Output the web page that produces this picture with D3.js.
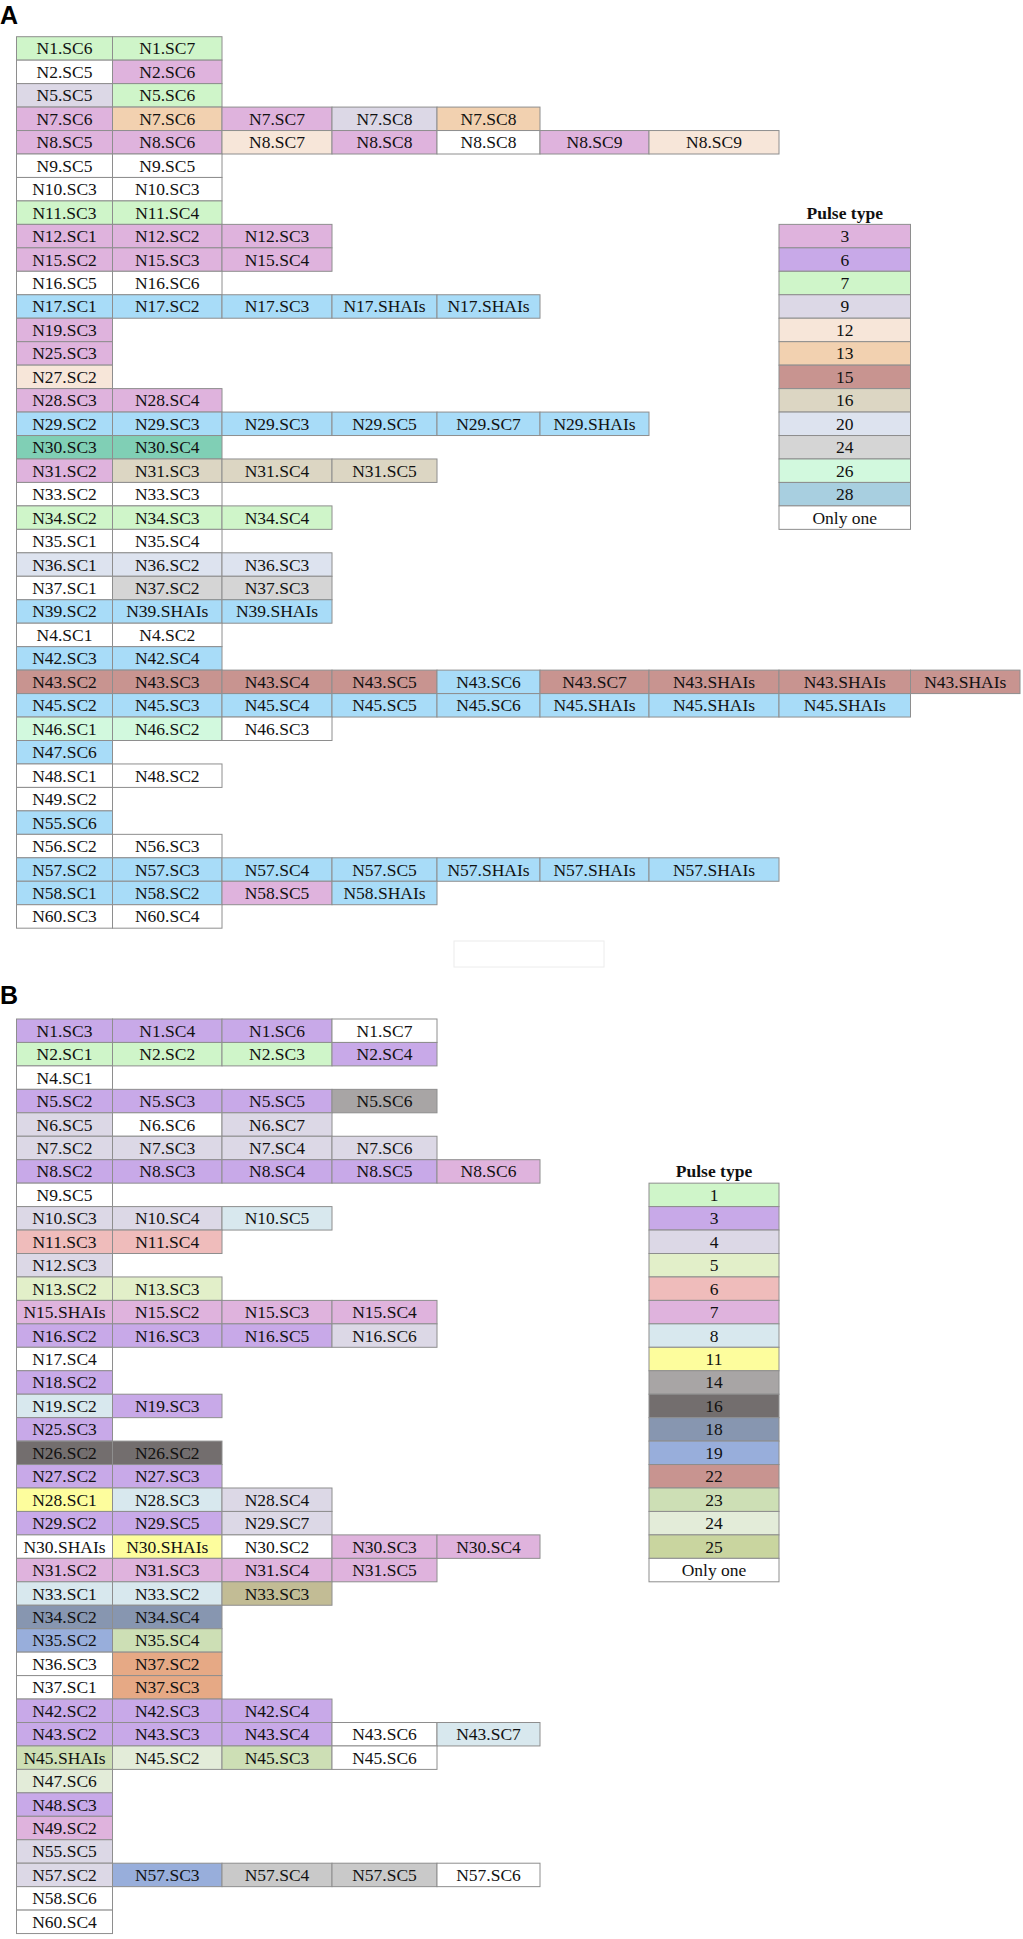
<!DOCTYPE html>
<html>
<head>
<meta charset="utf-8">
<script src="https://cdn.jsdelivr.net/npm/d3@7"></script>
<style>
  html, body { margin: 0; padding: 0; background: #ffffff; }
  svg { display: block; }
</style>
</head>
<body>
<svg id="chart" width="1023" height="1939"></svg>
<script>
// ---------------- DATA ----------------
// Panel A: cell labels per row, and the pulse type of each cell ("0" = only one)
const labelsA = [
  ["N1.SC6","N1.SC7"],
  ["N2.SC5","N2.SC6"],
  ["N5.SC5","N5.SC6"],
  ["N7.SC6","N7.SC6","N7.SC7","N7.SC8","N7.SC8"],
  ["N8.SC5","N8.SC6","N8.SC7","N8.SC8","N8.SC8","N8.SC9","N8.SC9"],
  ["N9.SC5","N9.SC5"],
  ["N10.SC3","N10.SC3"],
  ["N11.SC3","N11.SC4"],
  ["N12.SC1","N12.SC2","N12.SC3"],
  ["N15.SC2","N15.SC3","N15.SC4"],
  ["N16.SC5","N16.SC6"],
  ["N17.SC1","N17.SC2","N17.SC3","N17.SHAIs","N17.SHAIs"],
  ["N19.SC3"],
  ["N25.SC3"],
  ["N27.SC2"],
  ["N28.SC3","N28.SC4"],
  ["N29.SC2","N29.SC3","N29.SC3","N29.SC5","N29.SC7","N29.SHAIs"],
  ["N30.SC3","N30.SC4"],
  ["N31.SC2","N31.SC3","N31.SC4","N31.SC5"],
  ["N33.SC2","N33.SC3"],
  ["N34.SC2","N34.SC3","N34.SC4"],
  ["N35.SC1","N35.SC4"],
  ["N36.SC1","N36.SC2","N36.SC3"],
  ["N37.SC1","N37.SC2","N37.SC3"],
  ["N39.SC2","N39.SHAIs","N39.SHAIs"],
  ["N4.SC1","N4.SC2"],
  ["N42.SC3","N42.SC4"],
  ["N43.SC2","N43.SC3","N43.SC4","N43.SC5","N43.SC6","N43.SC7","N43.SHAIs","N43.SHAIs","N43.SHAIs"],
  ["N45.SC2","N45.SC3","N45.SC4","N45.SC5","N45.SC6","N45.SHAIs","N45.SHAIs","N45.SHAIs"],
  ["N46.SC1","N46.SC2","N46.SC3"],
  ["N47.SC6"],
  ["N48.SC1","N48.SC2"],
  ["N49.SC2"],
  ["N55.SC6"],
  ["N56.SC2","N56.SC3"],
  ["N57.SC2","N57.SC3","N57.SC4","N57.SC5","N57.SHAIs","N57.SHAIs","N57.SHAIs"],
  ["N58.SC1","N58.SC2","N58.SC5","N58.SHAIs"],
  ["N60.SC3","N60.SC4"]
];
const typesA = [
  ["7","7"],
  ["0","3"],
  ["9","7"],
  ["3","13","3","9","13"],
  ["3","3","12","3","0","3","12"],
  ["0","0"],
  ["0","0"],
  ["7","7"],
  ["3","3","3"],
  ["3","3","3"],
  ["0","0"],
  ["sky","sky","sky","sky","sky"],
  ["3"],
  ["3"],
  ["12"],
  ["3","3"],
  ["sky","sky","sky","sky","sky","sky"],
  ["teal","teal"],
  ["3","16","16","16"],
  ["0","0"],
  ["7","7","7"],
  ["0","0"],
  ["20","20","20"],
  ["0","24","24"],
  ["sky","sky","sky"],
  ["0","0"],
  ["sky","sky"],
  ["15","15","15","15","sky","15","15","15","15"],
  ["sky","sky","sky","sky","sky","sky","sky","sky"],
  ["26","26","0"],
  ["sky"],
  ["0","0"],
  ["0"],
  ["sky"],
  ["0","0"],
  ["sky","sky","sky","sky","sky","sky","sky"],
  ["sky","sky","3","sky"],
  ["0","0"]
];
const legendA = ["3","6","7","9","12","13","15","16","20","24","26","28","0"];

// Panel B
const labelsB = [
  ["N1.SC3","N1.SC4","N1.SC6","N1.SC7"],
  ["N2.SC1","N2.SC2","N2.SC3","N2.SC4"],
  ["N4.SC1"],
  ["N5.SC2","N5.SC3","N5.SC5","N5.SC6"],
  ["N6.SC5","N6.SC6","N6.SC7"],
  ["N7.SC2","N7.SC3","N7.SC4","N7.SC6"],
  ["N8.SC2","N8.SC3","N8.SC4","N8.SC5","N8.SC6"],
  ["N9.SC5"],
  ["N10.SC3","N10.SC4","N10.SC5"],
  ["N11.SC3","N11.SC4"],
  ["N12.SC3"],
  ["N13.SC2","N13.SC3"],
  ["N15.SHAIs","N15.SC2","N15.SC3","N15.SC4"],
  ["N16.SC2","N16.SC3","N16.SC5","N16.SC6"],
  ["N17.SC4"],
  ["N18.SC2"],
  ["N19.SC2","N19.SC3"],
  ["N25.SC3"],
  ["N26.SC2","N26.SC2"],
  ["N27.SC2","N27.SC3"],
  ["N28.SC1","N28.SC3","N28.SC4"],
  ["N29.SC2","N29.SC5","N29.SC7"],
  ["N30.SHAIs","N30.SHAIs","N30.SC2","N30.SC3","N30.SC4"],
  ["N31.SC2","N31.SC3","N31.SC4","N31.SC5"],
  ["N33.SC1","N33.SC2","N33.SC3"],
  ["N34.SC2","N34.SC4"],
  ["N35.SC2","N35.SC4"],
  ["N36.SC3","N37.SC2"],
  ["N37.SC1","N37.SC3"],
  ["N42.SC2","N42.SC3","N42.SC4"],
  ["N43.SC2","N43.SC3","N43.SC4","N43.SC6","N43.SC7"],
  ["N45.SHAIs","N45.SC2","N45.SC3","N45.SC6"],
  ["N47.SC6"],
  ["N48.SC3"],
  ["N49.SC2"],
  ["N55.SC5"],
  ["N57.SC2","N57.SC3","N57.SC4","N57.SC5","N57.SC6"],
  ["N58.SC6"],
  ["N60.SC4"]
];
const typesB = [
  ["3","3","3","0"],
  ["1","1","1","3"],
  ["0"],
  ["3","3","3","14"],
  ["4","0","4"],
  ["4","4","4","4"],
  ["3","3","3","3","7"],
  ["0"],
  ["4","4","8"],
  ["6","6"],
  ["4"],
  ["5","5"],
  ["7","7","7","7"],
  ["3","3","3","4"],
  ["0"],
  ["3"],
  ["8","3"],
  ["3"],
  ["16","16"],
  ["3","3"],
  ["11","8","4"],
  ["3","3","4"],
  ["0","11","0","7","7"],
  ["7","7","7","7"],
  ["8","8","olive"],
  ["18","18"],
  ["19","23"],
  ["0","orange"],
  ["0","orange"],
  ["3","3","3"],
  ["3","3","3","0","8"],
  ["23","24","23","0"],
  ["24"],
  ["3"],
  ["7"],
  ["4"],
  ["4","19","gray","gray","0"],
  ["0"],
  ["0"]
];
const legendB = ["1","3","4","5","6","7","8","11","14","16","18","19","22","23","24","25","0"];

// ---------------- STYLE ----------------
const colorA = {
  "3":"#dfb3dd","6":"#c8a9e8","7":"#cff5c9","9":"#dcd8e6","12":"#f7e6d9","13":"#f2d1b0",
  "15":"#c89490","16":"#dcd6c3","20":"#dde3ef","24":"#d5d5d5","26":"#d2f9de","28":"#a8cfe0",
  "0":"#ffffff","sky":"#a8dcf8","teal":"#80cfb5"
};
const colorB = {
  "1":"#cff5c9","3":"#c8a9e8","4":"#dcd8e6","5":"#e2efc9","6":"#efbcbb","7":"#dfb3dd",
  "8":"#d8e8ee","11":"#fdfd9d","14":"#a8a5a5","16":"#736e6e","18":"#8796b0","19":"#98aedb",
  "22":"#c89490","23":"#cddfb5","24":"#e3ecd9","25":"#c9d59f","0":"#ffffff",
  "olive":"#c2bc95","orange":"#e6a985","gray":"#c9c9c9"
};
const legendLabel = t => t === "0" ? "Only one" : t;

const colEdges = [16.5, 112.5, 222, 332, 437, 540, 649, 779, 910.5, 1020];
const x = d3.scaleLinear().domain(d3.range(colEdges.length)).range(colEdges);

const svg = d3.select("#chart");
const FONT = "'Liberation Serif', 'Times New Roman', serif";

function panel(opts) {
  const nRows = opts.labels.length;
  const y = d3.scaleBand().domain(d3.range(nRows)).range([opts.top, opts.top + nRows * opts.rowH]).padding(0);
  const g = svg.append("g");

  const cells = [];
  opts.labels.forEach((row, r) => row.forEach((lab, c) => cells.push({r, c, lab, t: opts.types[r][c]})));

  const cg = g.selectAll("g.cell").data(cells).join("g").attr("class", "cell");
  cg.append("rect")
    .attr("x", d => x(d.c)).attr("y", d => y(d.r))
    .attr("width", d => x(d.c + 1) - x(d.c)).attr("height", y.bandwidth())
    .attr("fill", d => opts.colors[d.t])
    .attr("stroke", "#8e8e8e").attr("stroke-width", 1);
  cg.append("text")
    .attr("x", d => (x(d.c) + x(d.c + 1)) / 2)
    .attr("y", d => y(d.r) + y.bandwidth() / 2 + 6)
    .attr("text-anchor", "middle")
    .attr("font-family", FONT).attr("font-size", 17.5).attr("fill", "#111")
    .text(d => d.lab);

  // legend
  const lc = opts.legendCol;
  const lg = g.append("g");
  lg.append("text")
    .attr("x", (x(lc) + x(lc + 1)) / 2)
    .attr("y", y(opts.legendRow - 1) + y.bandwidth() / 2 + 6)
    .attr("text-anchor", "middle").attr("font-family", FONT).attr("font-weight", "bold")
    .attr("font-size", 17.5).attr("fill", "#111").text("Pulse type");
  const li = lg.selectAll("g.li").data(opts.legend).join("g").attr("class", "li");
  li.append("rect")
    .attr("x", x(lc)).attr("y", (d, i) => y(opts.legendRow + i))
    .attr("width", x(lc + 1) - x(lc)).attr("height", y.bandwidth())
    .attr("fill", d => opts.colors[d]).attr("stroke", "#8e8e8e").attr("stroke-width", 1);
  li.append("text")
    .attr("x", (x(lc) + x(lc + 1)) / 2)
    .attr("y", (d, i) => y(opts.legendRow + i) + y.bandwidth() / 2 + 6)
    .attr("text-anchor", "middle").attr("font-family", FONT)
    .attr("font-size", 17.5).attr("fill", "#111").text(d => legendLabel(d));

  // panel letter
  g.append("text").attr("x", 0).attr("y", opts.letterY)
    .attr("font-family", "'Liberation Sans', Arial, sans-serif").attr("font-weight", "bold")
    .attr("font-size", 25).attr("fill", "#000").text(opts.letter);
}

panel({labels: labelsA, types: typesA, colors: colorA, legend: legendA,
       top: 36.7, rowH: 23.46, legendCol: 7, legendRow: 8, letter: "A", letterY: 24});
panel({labels: labelsB, types: typesB, colors: colorB, legend: legendB,
       top: 1019, rowH: 23.45, legendCol: 6, legendRow: 7, letter: "B", letterY: 1004});

// faint empty box between panels
svg.append("rect").attr("x", 454).attr("y", 941).attr("width", 150).attr("height", 26)
  .attr("fill", "none").attr("stroke", "#ececec").attr("stroke-width", 1);
</script>
</body>
</html>
